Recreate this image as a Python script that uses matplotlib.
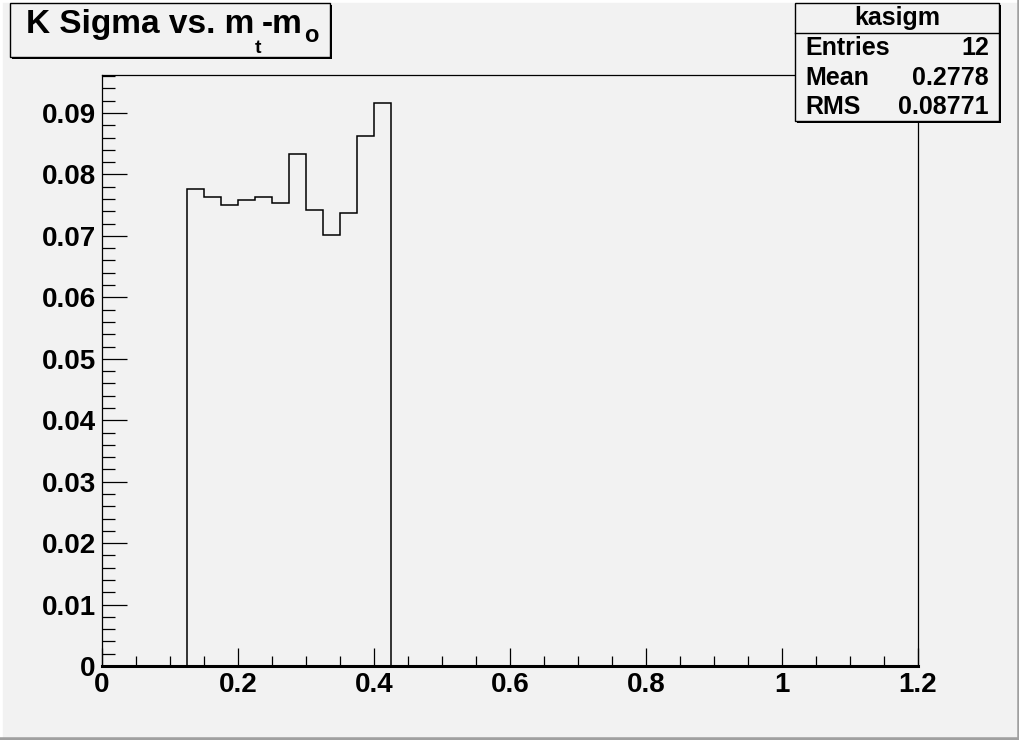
import matplotlib.pyplot as plt
from matplotlib.patches import Rectangle
from matplotlib.ticker import MultipleLocator, FuncFormatter

# histogram kasigm: K sigma vs m_t - m_0
bin_edges = [0.125, 0.150, 0.175, 0.200, 0.225, 0.250, 0.275,
             0.300, 0.325, 0.350, 0.375, 0.400, 0.425]
bin_values = [0.0776, 0.0763, 0.0751, 0.0758, 0.0763, 0.0753,
              0.0833, 0.0742, 0.0701, 0.0738, 0.0862, 0.0917]
stat_names = ["Entries", "Mean", "RMS"]
stat_values = ["12", "0.2778", "0.08771"]
hist_name = "kasigm"

W, H = 1020, 740
bg = "#f2f2f2"
plt.rcParams['font.family'] = ['Liberation Sans', 'DejaVu Sans']
plt.rcParams['font.weight'] = 'bold'

fig = plt.figure(figsize=(W / 100, H / 100), dpi=100, facecolor=bg)

def px(x, y, w, h):
    # pixel box (top-left origin) -> figure fraction
    return (x / W, 1 - (y + h) / H, w / W, h / H)

# canvas border: light top/left, dark right/bottom
for xs, ys, c in [([0, 0], [0, 1], "white"), ([0, 1], [1, 1], "white"),
                  ([1, 1], [0, 1], "#a0a0a0"), ([0, 1], [0, 0], "#a0a0a0")]:
    fig.lines.append(plt.Line2D(xs, ys, transform=fig.transFigure, color=c, lw=4, zorder=0))

ax = fig.add_axes(px(102, 75, 816, 591))
ax.set_facecolor(bg)
ax.stairs(bin_values, bin_edges, baseline=0, color="black", lw=1.1)

ax.set_xlim(0, 1.2)
ax.set_ylim(0, 0.09619)
ax.xaxis.set_major_locator(MultipleLocator(0.2))
ax.xaxis.set_minor_locator(MultipleLocator(0.05))
ax.yaxis.set_major_locator(MultipleLocator(0.01))
ax.yaxis.set_minor_locator(MultipleLocator(0.002))
fmt = FuncFormatter(lambda v, p: f"{v:g}" if abs(v) > 1e-9 else "0")
ax.xaxis.set_major_formatter(fmt)
ax.yaxis.set_major_formatter(fmt)

ax.tick_params(axis='both', which='both', direction='in', width=0.9, labelsize=20,
               top=False, right=False)
ax.tick_params(axis='y', which='major', length=18, pad=4.5)
ax.tick_params(axis='y', which='minor', length=9.5)
ax.tick_params(axis='x', which='major', length=13, pad=4.5)
ax.tick_params(axis='x', which='minor', length=7)
for lbl in ax.get_xticklabels() + ax.get_yticklabels():
    lbl.set_fontweight('bold')

for side in ['left', 'top', 'right']:
    ax.spines[side].set_linewidth(0.9)
ax.spines['bottom'].set_linewidth(2.2)

# title box
def pave(x, y, w, h):
    fig.patches.append(Rectangle(px(x + 2, y + 2, w, h)[:2], w / W, h / H,
                                 transform=fig.transFigure, facecolor="black",
                                 edgecolor="none", zorder=5))
    fig.patches.append(Rectangle(px(x, y, w, h)[:2], w / W, h / H,
                                 transform=fig.transFigure, facecolor=bg,
                                 edgecolor="black", lw=1, zorder=6))

pave(10, 3, 320, 54)
t1 = fig.text(26 / W, 1 - 33 / H, "K Sigma vs. m", fontsize=24, fontweight='bold',
              va='baseline', ha='left', zorder=10)
t2 = fig.text(0, 0, "t", fontsize=14, fontweight='bold', va='baseline', ha='left', zorder=10)
t3 = fig.text(0, 0, "-m", fontsize=24, fontweight='bold', va='baseline', ha='left', zorder=10)
t4 = fig.text(0, 0, "o", fontsize=17, fontweight='bold', va='baseline', ha='left', zorder=10)

fig.canvas.draw()
r = fig.canvas.get_renderer()
b1 = t1.get_window_extent(r)
t2.set_position(((b1.x1 + 0) / W, 1 - 53 / H))
b2 = t2.get_window_extent(r)
t3.set_position(((b2.x1 + 1) / W, 1 - 33 / H))
b3 = t3.get_window_extent(r)
t4.set_position(((b3.x1 + 1) / W, 1 - 42 / H))

# stats box
pave(795, 3, 204, 118)
fig.lines.append(plt.Line2D([795 / W, 999 / W], [1 - 33 / H, 1 - 33 / H],
                            transform=fig.transFigure, color="black", lw=1, zorder=7))
fig.text(897 / W, 1 - 18 / H, hist_name, fontsize=18, fontweight='bold',
         ha='center', va='center', zorder=10)
row_y = [48, 78, 107]
for name, val, yy in zip(stat_names, stat_values, row_y):
    fig.text(805 / W, 1 - yy / H, name, fontsize=18, fontweight='bold',
             ha='left', va='center', zorder=10)
    fig.text(989 / W, 1 - yy / H, val, fontsize=18, fontweight='bold',
             ha='right', va='center', zorder=10)

fig.savefig("out.png", dpi=100, facecolor=bg)
